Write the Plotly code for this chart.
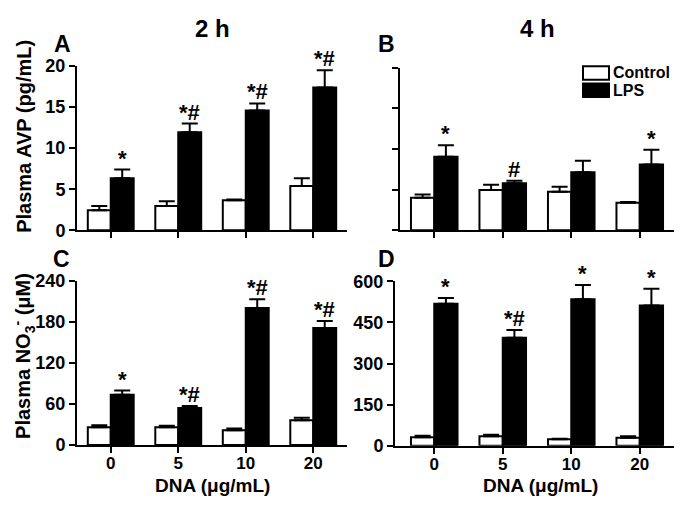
import plotly.graph_objects as go

# ---------------- data ----------------
dna_labels = ["0", "5", "10", "20"]
series_names = ["Control", "LPS"]

avp2_control = [2.45, 2.95, 3.65, 5.4]
avp2_control_sem = [0.5, 0.6, 0.1, 0.95]
avp2_lps = [6.35, 11.95, 14.6, 17.4]
avp2_lps_sem = [1.05, 1.05, 0.85, 2.1]
avp2_sig = ["*", "*#", "*#", "*#"]

avp4_control = [4.0, 4.95, 4.75, 3.4]
avp4_control_sem = [0.4, 0.65, 0.6, 0.1]
avp4_lps = [9.05, 5.8, 7.15, 8.1]
avp4_lps_sem = [1.4, 0.3, 1.4, 1.8]
avp4_sig = ["*", "#", "", "*"]

no2_control = [26, 26, 21.5, 36]
no2_control_sem = [3, 2, 2.5, 4]
no2_lps = [73.5, 54, 200, 171]
no2_lps_sem = [6, 3, 13, 10]
no2_sig = ["*", "*#", "*#", "*#"]

no4_control = [31, 35, 24, 29]
no4_control_sem = [6, 5, 2, 6]
no4_lps = [518, 394, 534, 512]
no4_lps_sem = [21, 28, 52, 61]
no4_sig = ["*", "*#", "*", "*"]

# ---------------- layout helpers ----------------
W, H = 685, 512
FONT = "Liberation Sans, Arial, sans-serif"
BARGAP = 0.32
TICK_SIZE = 18
XTICK_SIZE = 17
xpos = list(range(len(dna_labels)))


def px_x(p):
    return p / W


def px_y(p):
    return 1 - p / H


panels = [
    (avp2_control, avp2_control_sem, avp2_lps, avp2_lps_sem, avp2_sig, "", 20, 5, True, (77, 347), (229.3, 58.3), -0.5, False),
    (avp4_control, avp4_control_sem, avp4_lps, avp4_lps_sem, avp4_sig, "2", 20, 5, False, (400, 674), (229.3, 60), -0.5, False),
    (no2_control, no2_control_sem, no2_lps, no2_lps_sem, no2_sig, "3", 240, 60, True, (77, 347), (452.7, 281.7), -0.5, True),
    (no4_control, no4_control_sem, no4_lps, no4_lps_sem, no4_sig, "4", 600, 150, True, (395, 674), (453.5, 282.3), -0.573, True),
]

fig = go.Figure()
annotations = []
layout_axes = {}

for ctrl, csem, lps, lsem, sig, sfx, ymax, dtick, showy, xd, yd, xr0, showx in panels:
    xa = "x" + sfx
    ya = "y" + sfx
    fig.add_trace(go.Bar(
        x=xpos, y=ctrl, name=series_names[0], xaxis=xa, yaxis=ya,
        marker=dict(color="white", line=dict(color="black", width=2)),
        error_y=dict(type="data", symmetric=False, array=csem, arrayminus=[0] * len(csem),
                     color="black", thickness=2, width=8),
        offsetgroup="c", showlegend=False,
    ))
    fig.add_trace(go.Bar(
        x=xpos, y=lps, name=series_names[1], xaxis=xa, yaxis=ya,
        marker=dict(color="black", line=dict(color="black", width=2)),
        error_y=dict(type="data", symmetric=False, array=lsem, arrayminus=[0] * len(lsem),
                     color="black", thickness=2, width=8),
        offsetgroup="l", showlegend=False,
    ))
    bar_w = (1 - BARGAP) / 2
    for i, s in enumerate(sig):
        if s:
            annotations.append(dict(
                x=xpos[i] + bar_w / 2, y=lps[i] + lsem[i], xref=xa, yref=ya,
                text="<b>%s</b>" % s, showarrow=False, yanchor="bottom",
                yshift=-3, font=dict(size=22, family=FONT, color="black"),
            ))
    xkey = "xaxis" + sfx
    ykey = "yaxis" + sfx
    xaxis = dict(
        domain=[px_x(xd[0]), px_x(xd[1])], range=[xr0, 3.5], anchor=ya,
        tickmode="array", tickvals=xpos,
        showline=True, linecolor="black", linewidth=2, ticks="outside", ticklen=6,
        tickwidth=2, tickcolor="black", showgrid=False, zeroline=False,
        showticklabels=showx,
    )
    if showx:
        xaxis["ticktext"] = dna_labels
        xaxis["ticklabelstandoff"] = -4
        xaxis["tickfont"] = dict(size=XTICK_SIZE, family=FONT, color="black", weight=700)
    layout_axes[xkey] = xaxis
    yaxis = dict(
        domain=[px_y(yd[0]), px_y(yd[1])], range=[0, ymax], anchor=xa,
        dtick=dtick, tick0=0, showticklabels=showy,
        showline=True, linecolor="black", linewidth=2, ticks="outside", ticklen=6,
        tickwidth=2, tickcolor="black", showgrid=False, zeroline=False,
    )
    if showy:
        yaxis["tickfont"] = dict(size=TICK_SIZE, family=FONT, color="black", weight=700)
    layout_axes[ykey] = yaxis


def txt(x, y, s, size, angle=0, xanchor="center"):
    annotations.append(dict(
        x=px_x(x), y=px_y(y), xref="paper", yref="paper", text="<b>%s</b>" % s,
        showarrow=False, textangle=angle, xanchor=xanchor, yanchor="middle",
        font=dict(size=size, family=FONT, color="black"),
    ))


txt(213, 19, "2 h", 24)
txt(537, 19, "4 h", 24)
txt(62, 35, "A", 23)
txt(386, 35, "B", 23)
txt(61, 259, "C", 23)
txt(386, 259, "D", 23)
txt(24, 132, "Plasma AVP (pg/mL)", 20, angle=-90)
txt(24, 360, "Plasma NO<sub>3</sub><sup>-</sup> (\u03bcM)", 20, angle=-90)
txt(213, 495, "DNA (\u03bcg/mL)", 19)
txt(540, 495, "DNA (\u03bcg/mL)", 19)

shapes = []
legend_fill = ["white", "black"]
for k, name in enumerate(series_names):
    top = 58.5 + k * 18
    shapes.append(dict(type="rect", xref="paper", yref="paper",
                       x0=px_x(583), x1=px_x(609), y0=px_y(top + 14), y1=px_y(top),
                       fillcolor=legend_fill[k], line=dict(color="black", width=2)))
    txt(611, top + 7, name, 16, xanchor="left")

fig.update_layout(
    width=W, height=H, margin=dict(l=0, r=0, t=0, b=0),
    paper_bgcolor="white", plot_bgcolor="white",
    barmode="group", bargap=BARGAP, bargroupgap=0,
    annotations=annotations, shapes=shapes,
    font=dict(family=FONT, color="black"),
    **layout_axes,
)

fig.write_html("out.html", config={"displayModeBar": False},
               post_script="document.body.style.margin='0px';")
